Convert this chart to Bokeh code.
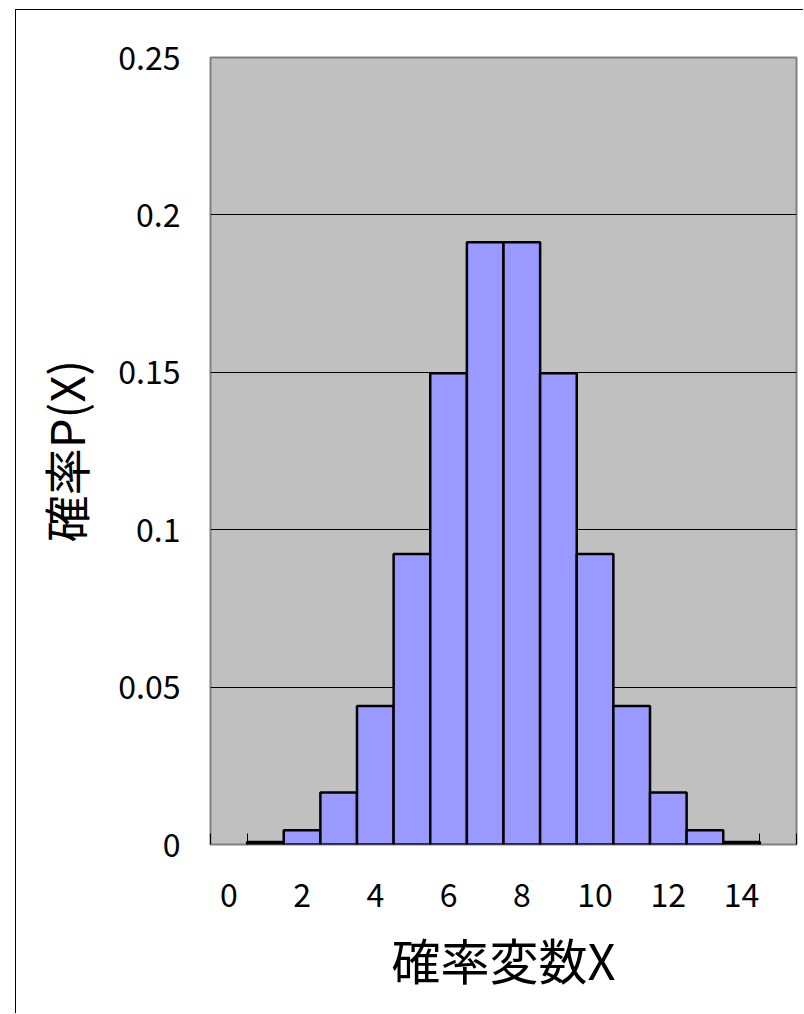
from bokeh.plotting import figure
from bokeh.models import FixedTicker, Range1d, InlineStyleSheet
from bokeh.embed import file_html
from bokeh.resources import INLINE

# ---- data ----
categories = list(range(0, 16))            # category slots on the x axis
x_values = list(range(1, 15))              # X = 1 .. 14
probabilities = [0.0008, 0.0045, 0.0165, 0.0440, 0.0923, 0.1497, 0.1913,
                 0.1913, 0.1497, 0.0923, 0.0440, 0.0165, 0.0045, 0.0008]
x_tick_values = [0, 2, 4, 6, 8, 10, 12, 14]
x_tick_labels = ["0", "2", "4", "6", "8", "10", "12", "14"]
y_tick_values = [0, 0.05, 0.1, 0.15, 0.2, 0.25]
y_tick_labels = ["0", "0.05", "0.1", "0.15", "0.2", "0.25"]
x_title = "確率変数X"
y_title = "確率P(X)"

FONT = "Noto Sans CJK JP"

p = figure(width=788, height=1004,
           x_range=Range1d(categories[0] - 0.5, categories[-1] + 0.5),
           y_range=Range1d(y_tick_values[0], y_tick_values[-1]),
           output_backend="svg", toolbar_location=None,
           min_border_left=194, min_border_right=8,
           min_border_top=47, min_border_bottom=170,
           background_fill_color="#C0C0C0", border_fill_color="white")

# outer chart-area border (left and top edges visible in the window)
p.margin = (9, 0, 0, 15)
p.stylesheets = [InlineStyleSheet(css=":host { border-left: 1px solid black; border-top: 1px solid black; }")]

p.outline_line_color = "#808080"
p.outline_line_width = 2

p.xgrid.visible = False
p.ygrid.ticker = FixedTicker(ticks=y_tick_values[1:-1])
p.ygrid.grid_line_color = "black"
p.ygrid.grid_line_width = 1

p.vbar(x=x_values, top=probabilities, width=1.0,
       fill_color="#9999FF", line_color="black", line_width=2.5)

# x axis: labels at every second category, inner tick marks at category boundaries
xa = p.xaxis[0]
xa.ticker = FixedTicker(ticks=x_tick_values,
                        minor_ticks=[c - 0.5 for c in categories] + [categories[-1] + 0.5])
xa.major_label_overrides = dict(zip(x_tick_values, x_tick_labels))
xa.axis_line_color = None
xa.major_tick_line_color = None
xa.major_tick_in = 0
xa.major_tick_out = 0
xa.minor_tick_line_color = "black"
xa.minor_tick_line_width = 1
xa.minor_tick_in = 11
xa.minor_tick_out = 0
xa.major_label_standoff = 38
xa.major_label_text_font = FONT
xa.major_label_text_font_size = "32px"
xa.major_label_text_color = "black"
xa.axis_label = x_title
xa.axis_label_text_font = FONT
xa.axis_label_text_font_size = "49px"
xa.axis_label_text_font_style = "normal"
xa.axis_label_text_color = "black"
xa.axis_label_standoff = 13

ya = p.yaxis[0]
ya.ticker = FixedTicker(ticks=y_tick_values)
ya.major_label_overrides = dict(zip(y_tick_values, y_tick_labels))
ya.axis_line_color = None
ya.major_tick_line_color = None
ya.minor_tick_line_color = None
ya.major_tick_in = 0
ya.major_tick_out = 0
ya.major_label_standoff = 30
ya.major_label_text_font = FONT
ya.major_label_text_font_size = "32px"
ya.major_label_text_color = "black"
ya.axis_label = y_title
ya.axis_label_text_font = FONT
ya.axis_label_text_font_size = "47px"
ya.axis_label_text_font_style = "normal"
ya.axis_label_text_color = "black"
ya.axis_label_standoff = 16

open("out.html", "w").write(file_html(p, INLINE))
